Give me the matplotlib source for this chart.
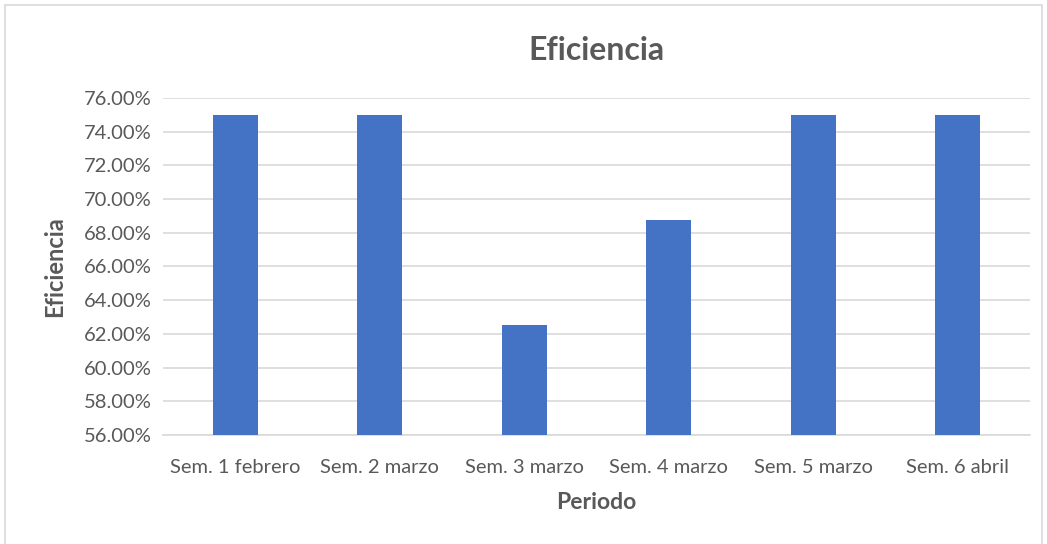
import matplotlib
matplotlib.use('Agg')
import matplotlib.pyplot as plt
import matplotlib.ticker as ticker
from matplotlib.patches import Rectangle

plt.rcParams['font.family'] = ['Lato', 'DejaVu Sans']

# Weekly efficiency (percent)
periodos = ['Sem. 1 febrero', 'Sem. 2 marzo', 'Sem. 3 marzo',
            'Sem. 4 marzo', 'Sem. 5 marzo', 'Sem. 6 abril']
eficiencia = [75.0, 75.0, 62.5, 68.75, 75.0, 75.0]

TEXT = '#595959'
BAR = '#4472C4'
GRID = '#D9D9D9'

fig = plt.figure(figsize=(10.47, 5.44), dpi=100)
ax = fig.add_axes([0.1557, 0.2004, 0.828, 0.6195])

# chart-area outline
fig.patches.append(Rectangle((5 / 1047, -0.05), 1037 / 1047, 1.05 - 5 / 544,
                             transform=fig.transFigure, fill=False,
                             edgecolor=GRID, linewidth=1.2))

x = range(len(periodos))
ax.bar(x, eficiencia, width=0.31, color=BAR, zorder=3)

ax.set_xlim(-0.5, len(periodos) - 0.5)
ax.set_ylim(56, 76)
ax.yaxis.set_major_locator(ticker.MultipleLocator(2))
ax.yaxis.set_major_formatter(ticker.FuncFormatter(lambda v, p: f'{v:.2f}%'))
ax.set_xticks(list(x))
ax.set_xticklabels(periodos)

ax.grid(axis='y', color=GRID, linewidth=1.2, zorder=0)
for s in ['top', 'right', 'left']:
    ax.spines[s].set_visible(False)
ax.spines['bottom'].set_color(GRID)
ax.spines['bottom'].set_linewidth(1.2)
ax.tick_params(axis='both', length=0, colors=TEXT, labelsize=14.5)
ax.tick_params(axis='x', pad=17)
ax.tick_params(axis='y', pad=8)

ax.set_title('Eficiencia', fontsize=23, fontweight='bold', color=TEXT, pad=27)
ax.set_ylabel('Eficiencia', fontsize=17, fontweight='bold', color=TEXT, labelpad=13)
ax.set_xlabel('Periodo', fontsize=16.5, fontweight='bold', color=TEXT, labelpad=12)

fig.savefig('out.png', dpi=100)
